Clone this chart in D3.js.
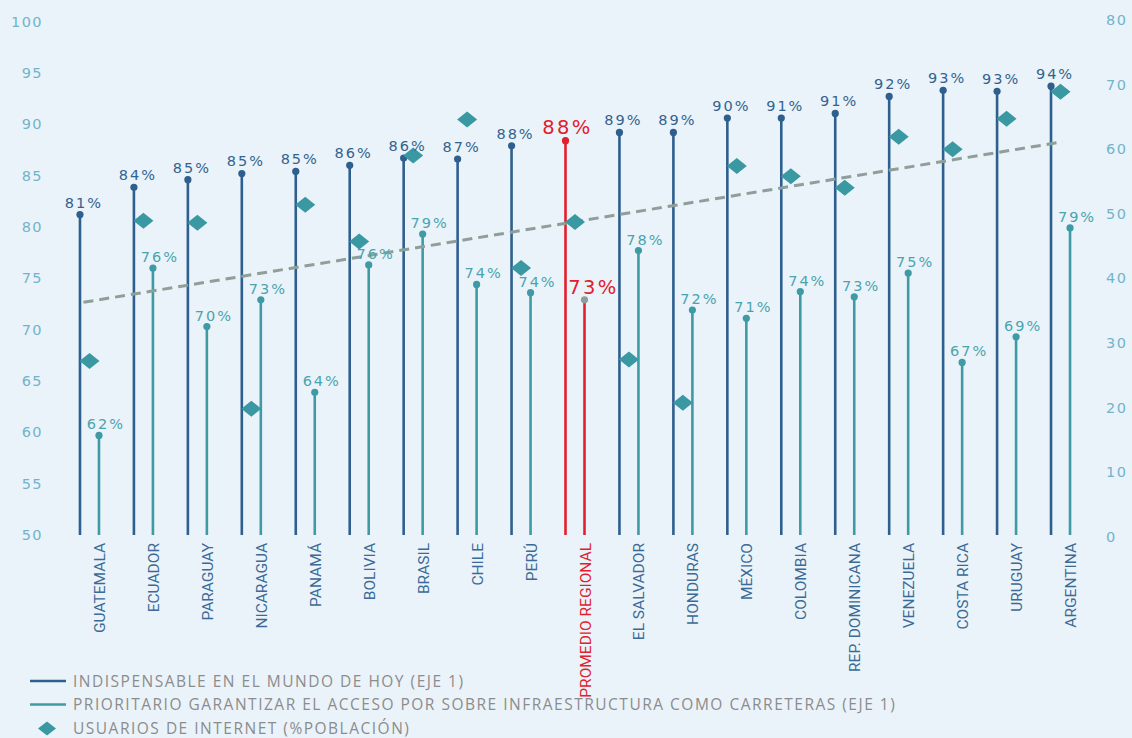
<!DOCTYPE html>
<html>
<head>
<meta charset="utf-8">
<script src="https://cdn.jsdelivr.net/npm/d3@7"></script>
<style>
  html, body { margin: 0; padding: 0; background: #eaf3f9; }
  svg { display: block; }
</style>
</head>
<body>
<svg id="chart" width="1132" height="738"></svg>
<script>
const categories = ["GUATEMALA","ECUADOR","PARAGUAY","NICARAGUA","PANAMÁ","BOLIVIA","BRASIL","CHILE","PERÚ","PROMEDIO REGIONAL","EL SALVADOR","HONDURAS","MÉXICO","COLOMBIA","REP. DOMINICANA","VENEZUELA","COSTA RICA","URUGUAY","ARGENTINA"];
const indispensable = [81.2, 83.85, 84.6, 85.2, 85.4, 86.0, 86.7, 86.6, 87.9, 88.4, 89.2, 89.2, 90.6, 90.6, 91.05, 92.7, 93.3, 93.2, 93.7];
const indispensableLabels = ["81%","84%","85%","85%","85%","86%","86%","87%","88%","88%","89%","89%","90%","91%","91%","92%","93%","93%","94%"];
const prioritario = [59.7, 76.0, 70.3, 72.9, 63.9, 76.3, 79.3, 74.4, 73.6, 72.9, 77.7, 71.9, 71.1, 73.7, 73.2, 75.5, 66.8, 69.3, 79.9];
const prioritarioLabels = ["62%","76%","70%","73%","64%","76%","79%","74%","74%","73%","78%","72%","71%","74%","73%","75%","67%","69%","79%"];
const usuarios = [27.2, 48.9, 48.6, 19.8, 51.4, 45.7, 59.0, 64.6, 41.6, 48.7, 27.4, 20.7, 57.4, 55.8, 54.0, 61.9, 60.0, 64.7, 68.9];
const leftTicks = [50, 55, 60, 65, 70, 75, 80, 85, 90, 95, 100];
const rightTicks = [0, 10, 20, 30, 40, 50, 60, 70, 80];
const legendLabels = [
  "INDISPENSABLE EN EL MUNDO DE HOY (EJE 1)",
  "PRIORITARIO GARANTIZAR EL ACCESO POR SOBRE INFRAESTRUCTURA COMO CARRETERAS (EJE 1)",
  "USUARIOS DE INTERNET (%POBLACIÓN)"
];
const highlight = "PROMEDIO REGIONAL";

const C = {
  dark: "#2e5f8e",
  teal: "#3e9ba6",
  diamond: "#3a98a2",
  red: "#e2202d",
  grey: "#8d9e98",
  trend: "#8e9e98",
  tick: "#72b3cb",
  darkText: "#34628f",
  tealText: "#4aa4ae",
  catText: "#3b6a96",
  legend: "#8c8c8c"
};

const svg = d3.select("#chart");
const x = d3.scaleBand().domain(categories).range([62.5, 1087.5]).padding(0);
const yL = d3.scaleLinear().domain([50, 100]).range([535, 21.5]);
const yR = d3.scaleLinear().domain([0, 80]).range([536.5, 20]);
const cx = d => x(d) + x.bandwidth() / 2;
const off = 9.5;

const numFont = "DejaVu Sans";

const axL = svg.append("g").attr("transform", "translate(43,0)")
  .call(d3.axisLeft(yL).tickValues(leftTicks).tickSize(0).tickPadding(0));
axL.select(".domain").remove();
axL.selectAll("text").attr("fill", C.tick).attr("font-family", numFont)
  .attr("font-size", 14.5).attr("letter-spacing", 1.4);

const axR = svg.append("g").attr("transform", "translate(1106,0)")
  .call(d3.axisRight(yR).tickValues(rightTicks).tickSize(0).tickPadding(0));
axR.select(".domain").remove();
axR.selectAll("text").attr("fill", C.tick).attr("font-family", numFont)
  .attr("font-size", 14.5).attr("letter-spacing", 1.4);

// trend line (least squares of usuarios vs index)
const n = usuarios.length;
const mi = (n - 1) / 2;
const mv = d3.mean(usuarios);
const slope = d3.sum(usuarios, (v, i) => (i - mi) * (v - mv)) / d3.sum(usuarios, (v, i) => (i - mi) * (i - mi));
const step = x.step();
const fx0 = -6 / step, fx1 = (n - 1) + 2 / step;
const trendPts = [fx0, fx1].map(f => [cx(categories[0]) + f * step, yR(mv + slope * (f - mi))]);

const data = categories.map((c, i) => ({
  c, i, a: indispensable[i], al: indispensableLabels[i],
  b: prioritario[i], bl: prioritarioLabels[i], u: usuarios[i], hi: c === highlight
}));

const g = svg.append("g");
g.selectAll(".stemA").data(data).join("line")
  .attr("x1", d => cx(d.c) - off).attr("x2", d => cx(d.c) - off)
  .attr("y1", yL(50)).attr("y2", d => yL(d.a))
  .attr("stroke", d => d.hi ? C.red : C.dark).attr("stroke-width", 2.6);
g.selectAll(".dotA").data(data).join("circle")
  .attr("cx", d => cx(d.c) - off).attr("cy", d => yL(d.a)).attr("r", 3.6)
  .attr("fill", d => d.hi ? C.red : C.dark);
g.selectAll(".stemB").data(data).join("line")
  .attr("x1", d => cx(d.c) + off).attr("x2", d => cx(d.c) + off)
  .attr("y1", yL(50)).attr("y2", d => yL(d.b))
  .attr("stroke", d => d.hi ? C.red : C.teal).attr("stroke-width", 2.6);
g.selectAll(".dotB").data(data).join("circle")
  .attr("cx", d => cx(d.c) + off).attr("cy", d => yL(d.b)).attr("r", 3.6)
  .attr("fill", d => d.hi ? C.grey : C.teal);

svg.append("path").attr("d", d3.line()(trendPts))
  .attr("stroke", C.trend).attr("stroke-width", 3).attr("fill", "none")
  .attr("stroke-dasharray", "10,6");

svg.selectAll(".dia").data(data).join("path")
  .attr("d", "M0,-8L10,0L0,8L-10,0Z")
  .attr("transform", d => `translate(${cx(d.c)},${yR(d.u)})`)
  .attr("fill", C.diamond);

svg.selectAll(".labA").data(data).join("text")
  .attr("x", d => cx(d.c) - off + (d.hi ? 2 : 4))
  .attr("y", d => yL(d.a) - 7)
  .attr("text-anchor", "middle")
  .attr("font-family", numFont)
  .attr("font-size", d => d.hi ? 19.5 : 14.5)
  .attr("letter-spacing", d => d.hi ? 2.4 : 2)
  .attr("fill", d => d.hi ? C.red : C.darkText)
  .text(d => d.al);
svg.selectAll(".labB").data(data).join("text")
  .attr("x", d => cx(d.c) + off + (d.hi ? 9 : 7))
  .attr("y", d => yL(d.b) - 6)
  .attr("text-anchor", "middle")
  .attr("font-family", numFont)
  .attr("font-size", d => d.hi ? 19.5 : 14.5)
  .attr("letter-spacing", d => d.hi ? 2.4 : 2)
  .attr("fill", d => d.hi ? C.red : C.tealText)
  .text(d => d.bl);

svg.selectAll(".cat").data(data).join("text")
  .attr("transform", d => `translate(${cx(d.c) + off + 6},543) rotate(-90)`)
  .attr("text-anchor", "end")
  .attr("font-family", "Roboto")
  .attr("font-size", 15.5)
  .attr("fill", d => d.hi ? C.red : C.catText)
  .text(d => d.c);

const leg = svg.append("g");
const ly = [681, 704.5, 728.5];
leg.append("line").attr("x1", 30).attr("x2", 66).attr("y1", ly[0]).attr("y2", ly[0])
  .attr("stroke", C.dark).attr("stroke-width", 2.6);
leg.append("line").attr("x1", 30).attr("x2", 66).attr("y1", ly[1]).attr("y2", ly[1])
  .attr("stroke", C.teal).attr("stroke-width", 2.6);
leg.append("path").attr("d", "M0,-7L9,0L0,7L-9,0Z")
  .attr("transform", `translate(47,${ly[2]})`).attr("fill", C.diamond);
leg.selectAll("text").data(legendLabels).join("text")
  .attr("x", 73).attr("y", (d, i) => ly[i]).attr("dy", "0.36em")
  .attr("font-family", "Open Sans").attr("font-size", 15.5)
  .attr("letter-spacing", 1.5)
  .attr("fill", C.legend).text(d => d);
</script>
</body>
</html>
